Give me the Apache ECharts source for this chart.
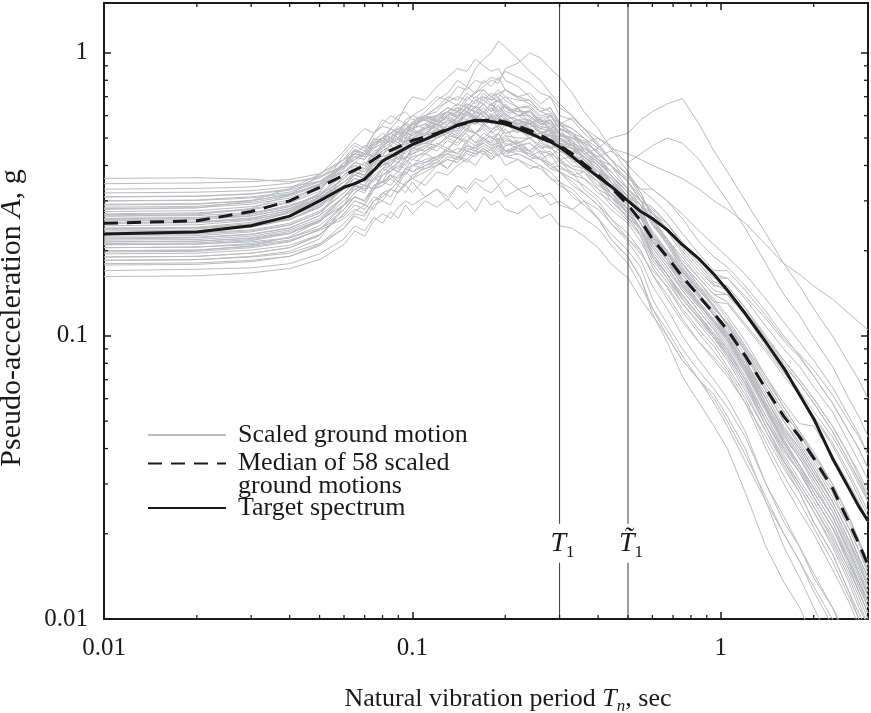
<!DOCTYPE html>
<html><head><meta charset="utf-8">
<script src="https://cdn.jsdelivr.net/npm/echarts@6/dist/echarts.min.js"></script>
<style>html,body{margin:0;padding:0;background:#fff}#c{width:871px;height:713px}</style>
</head><body><div id="c"></div>
<script>
// ---------- DATA ----------
const periods = [0.01,0.02,0.03,0.04,0.05, 0.06,0.065,0.07,0.075,0.08, 0.085,0.09,0.095,0.1,0.11, 0.12,0.13,0.14,0.15,0.16, 0.17,0.18,0.19,0.2,0.22, 0.24,0.26,0.28,0.3,0.33, 0.36,0.4,0.44,0.5,0.55, 0.6,0.67,0.75,0.85,0.95, 1.05,1.2,1.4,1.6,1.8, 2.0,2.3,2.6,2.8,3.0];
const medianSpectrum = [0.250,0.255,0.275,0.300,0.335, 0.370,0.385,0.400,0.420,0.440, 0.452,0.465,0.478,0.490,0.505, 0.520,0.538,0.555,0.565,0.575, 0.577,0.578,0.576,0.570,0.550, 0.532,0.512,0.490,0.470,0.440, 0.405,0.370,0.335,0.290,0.255, 0.220,0.190,0.162,0.138,0.120, 0.105,0.085,0.065,0.052,0.044, 0.037,0.029,0.022,0.0185,0.0155];
const targetSpectrum = [0.229,0.233,0.245,0.265,0.300, 0.335,0.345,0.358,0.385,0.415, 0.430,0.445,0.460,0.475,0.495, 0.515,0.535,0.555,0.568,0.578, 0.575,0.572,0.566,0.560,0.540, 0.520,0.500,0.485,0.465,0.430, 0.398,0.365,0.338,0.300,0.275, 0.260,0.237,0.210,0.187,0.165, 0.145,0.120,0.095,0.077,0.062, 0.051,0.037,0.029,0.025,0.0222];
// 58 scaled ground-motion spectra, in milli-g
const groundMotionsMilliG = [
[360,362,358,350,362, 400,455,440,500,480, 540,520,570,545,600, 580,620,590,650,610, 660,620,690,640,600, 630,570,600,540,520, 480,450,400,360,330, 330,300,270,235,210, 190,165,135,112,95, 82,66,52,45,38],
[170,172,174,180,195, 220,245,235,262,250, 275,260,290,270,300, 285,305,280,300,275, 310,290,300,280,270, 290,260,270,245,240, 225,205,180,160,135, 118,100,82,70,58, 48,36,26,20,16, 13,10,7.5,6,5],
[232,234,242,258,290, 330,380,365,420,450, 470,500,480,530,510, 580,555,620,600,650, 610,660,620,590,640, 560,590,520,540,470, 430,380,360,300,270, 215,185,150,130,110, 96,76,57,44,37, 31,24,18,15,12.5],
[200,201,208,224,255, 290,340,325,360,350, 395,380,420,400,440, 420,460,440,480,450, 490,470,500,450,470, 430,450,400,420,370, 380,330,310,260,240, 195,165,140,118,100, 86,68,50,40,33, 27,21,16,13.5,11],
[280,283,300,332,372, 420,455,440,490,520, 500,540,560,530,600, 640,700,680,760,720, 800,760,820,740,700, 720,660,700,600,580, 520,470,420,370,310, 270,235,195,165,145, 140,118,92,75,62, 52,41,32,27,23],
[260,262,270,290,312, 360,390,380,430,460, 500,480,540,560,620, 680,720,800,760,880, 950,1000,1100,1050,950, 860,800,720,660,600, 540,470,420,350,300, 250,210,170,140,118, 100,78,58,45,37, 30,23,17,14,11.5],
[185,186,190,196,212, 240,265,255,290,300, 290,325,340,320,360, 400,430,420,470,460, 500,480,520,560,520, 580,540,600,560,590, 540,500,470,400,360, 330,300,260,215,190, 175,150,122,100,85, 72,58,46,40,34],
[210,211,215,222,240, 265,290,280,310,300, 330,320,345,360,340, 380,370,400,420,400, 440,420,450,430,470, 450,480,460,500,470, 440,460,500,520,580, 620,660,690,560,450, 380,300,230,180,150, 125,100,80,70,60],
[300,302,310,322,350, 395,440,430,470,500, 480,530,510,560,580, 550,600,570,620,590, 620,580,600,560,580, 540,500,520,480,430, 400,360,310,280,240, 200,170,145,122,105, 90,70,52,40,33, 27,21,16,13.5,11.5],
[240,242,252,272,305, 350,370,360,410,400, 440,420,470,460,490, 540,500,560,530,590, 560,600,550,580,540, 560,520,540,480,470, 430,400,350,310,290, 250,220,190,160,140, 140,118,96,78,68, 58,46,36,31,26],
[190,191,196,205,228, 270,300,290,330,340, 370,350,390,380,400, 420,390,430,410,440, 450,420,440,400,420, 390,400,360,340,320, 290,260,220,190,160, 125,100,82,70,62, 52,40,26,18,14, 11,8,6,5,4],
[275,277,286,302,335, 390,420,450,430,480, 510,490,540,560,540, 600,640,620,660,640, 700,660,680,620,640, 590,560,580,520,480, 420,380,340,290,250, 210,180,152,130,112, 98,78,56,42,35, 29,23,17.5,14.5,12],
[220,222,228,240,266, 310,340,330,360,390, 380,410,430,420,450, 470,450,500,480,520, 500,530,490,540,480, 500,460,470,420,430, 400,380,330,300,265, 225,200,170,145,128, 110,90,68,54,45, 38,30,23,19,15.5],
[310,312,318,330,362, 420,470,450,520,560, 600,580,650,700,680, 760,820,880,860,950, 900,860,880,800,760, 700,640,620,560,520, 470,410,370,310,270, 230,195,165,138,118, 100,80,60,47,39, 32,25,19,16,13],
[250,252,260,278,310, 340,360,350,390,400, 410,440,420,460,450, 480,460,500,490,520, 490,510,480,500,470, 480,450,440,420,390, 380,340,320,280,250, 220,195,165,140,124, 112,92,72,58,49, 48,38,30,26,22],
[205,206,212,222,245, 290,320,340,330,380, 400,440,420,470,520, 500,560,590,560,620, 600,640,610,650,600, 620,560,580,540,520, 480,420,400,330,300, 285,250,210,180,155, 150,126,100,82,70, 60,48,38,32,27],
[265,268,282,315,370, 450,500,540,520,580, 560,600,620,580,600, 570,590,540,560,520, 540,500,520,480,460, 450,420,400,380,340, 320,290,260,220,200, 165,135,112,95,82, 72,58,44,34,28, 22,17,12.5,10,8.5],
[230,231,237,250,276, 320,350,340,380,400, 410,440,420,460,480, 470,510,500,540,520, 560,530,560,520,540, 500,520,460,470,410, 420,360,340,280,260, 215,195,160,140,118, 104,82,62,48,40, 33,26,20,16.5,14],
[320,322,326,336,352, 380,400,390,430,450, 470,440,490,500,530, 560,600,640,620,680, 700,680,720,740,700, 680,620,640,560,540, 500,440,400,350,300, 250,215,180,150,132, 115,92,70,56,46, 38,30,23,18.5,15.5],
[180,181,185,191,208, 240,270,265,300,320, 310,340,320,350,310, 330,300,340,320,350, 330,320,340,310,330, 310,320,290,300,280, 300,280,250,220,195, 170,150,125,105,92, 78,62,46,36,30, 25,19,14.5,12,10],
[255,257,265,282,315, 360,400,390,440,430, 480,500,470,520,540, 560,530,600,580,620, 600,640,590,610,560, 580,520,530,470,460, 400,370,320,270,240, 190,165,135,116,100, 86,68,48,36,29, 24,18,13.5,11,9.5],
[215,216,222,234,256, 290,310,300,330,350, 340,370,380,360,400, 410,390,430,420,450, 440,460,430,470,480, 450,490,460,480,440, 460,430,450,410,440, 470,500,480,420,350, 300,240,180,140,118, 98,78,60,52,44],
[290,292,300,316,345, 400,450,430,480,500, 520,500,560,540,600, 620,680,650,720,690, 740,700,720,680,640, 650,600,610,540,520, 450,400,350,300,270, 215,185,150,128,112, 98,78,56,42,35, 29,23,17.5,14.5,12],
[200,201,207,216,238, 280,310,300,340,350, 370,350,390,380,410, 430,460,440,490,470, 500,480,520,470,490, 450,420,440,390,380, 330,300,260,230,200, 165,140,115,95,84, 74,58,40,30,24, 20,15,11.5,9.5,8],
[245,247,256,274,305, 350,380,370,420,440, 470,450,500,480,520, 560,540,590,620,580, 620,580,600,560,580, 560,520,540,490,470, 450,410,370,320,290, 245,215,180,155,132, 130,108,88,72,62, 52,42,33,28,24],
[195,196,201,209,228, 270,300,290,330,340, 360,340,380,400,390, 410,440,430,460,450, 470,450,480,440,460, 440,470,430,460,420, 430,390,360,310,290, 270,250,215,185,165, 160,138,115,96,84, 72,58,46,40,34],
[270,272,281,298,330, 400,430,420,470,490, 500,530,510,560,580, 600,640,620,700,660, 720,680,700,640,620, 620,580,560,520,480, 420,370,320,280,240, 190,160,135,115,98, 86,68,48,36,29, 24,18.5,14,11.5,9.5],
[225,226,233,246,272, 340,370,360,400,420, 440,420,460,470,490, 510,540,520,570,560, 600,560,590,550,560, 540,500,520,460,450, 430,390,340,300,265, 225,195,165,138,120, 102,82,60,47,40, 33,26,20,16.5,14],
[330,332,336,346,366, 400,420,440,430,470, 500,480,520,540,510, 560,520,580,550,600, 560,590,560,580,540, 550,500,510,470,460, 420,380,350,300,270, 235,200,168,145,126, 110,88,66,52,43, 36,28,21,17.5,15],
[210,211,217,230,256, 310,340,360,350,390, 420,410,450,480,500, 540,580,560,620,640, 600,640,620,660,600, 620,580,540,560,500, 490,440,400,350,310, 270,240,200,170,150, 150,125,98,80,68, 58,46,36,31,27],
[162,163,167,173,186, 210,235,225,255,270, 260,285,300,290,310, 330,310,340,330,360, 350,370,340,360,330, 340,310,320,290,280, 260,240,210,180,150, 125,105,85,70,60, 50,38,27,20,16, 12.5,9.5,7,6,5],
[260,261,269,286,318, 370,410,400,440,470, 490,470,520,510,550, 590,620,640,620,680, 660,700,670,700,640, 640,590,600,540,510, 470,420,370,320,280, 225,190,155,130,112, 96,76,56,43,35, 28,22,16.5,13.5,11.5],
[240,241,249,264,292, 330,360,350,390,420, 440,470,460,500,540, 580,620,600,680,720, 760,800,780,880,920, 1000,960,880,820,720, 620,540,460,380,320, 260,215,175,142,118, 98,76,55,42,34, 27,21,15.5,12.5,10.5],
[235,236,243,257,284, 330,360,350,380,410, 400,430,420,450,470, 450,490,470,510,480, 520,500,490,510,470, 480,440,450,410,390, 360,330,290,255,225, 185,160,130,110,95, 82,64,46,35,28, 22,17,12.5,10.5,9],
[285,287,296,312,340, 400,440,430,480,490, 520,500,540,560,580, 560,610,590,640,620, 660,620,650,610,630, 600,560,570,520,500, 460,430,380,330,300, 255,220,180,155,135, 118,96,72,56,46, 39,30,23,19,16],
[218,219,225,237,260, 310,345,330,370,390, 400,390,430,440,460, 500,530,510,560,570, 550,580,540,570,530, 530,490,500,450,440, 410,370,340,290,260, 220,185,158,132,114, 98,78,60,46,38, 32,25,19,16,13.5],
[205,206,210,218,236, 260,280,270,300,310, 330,350,340,370,390, 400,420,410,440,430, 460,440,470,490,480, 500,520,490,510,500, 480,500,460,440,420, 400,380,360,330,300, 280,250,210,180,165, 150,135,120,112,105],
[250,251,258,272,300, 350,380,370,410,430, 440,470,460,480,510, 540,520,570,560,600, 580,610,570,590,550, 540,500,510,450,430, 390,350,310,270,240, 195,165,140,118,102, 90,72,52,40,33, 27,21,16,13,11],
[300,301,307,318,342, 380,410,440,430,470, 490,520,500,540,560, 540,580,560,610,590, 620,590,610,580,560, 560,520,510,480,440, 400,360,320,270,235, 195,165,135,115,100, 88,70,50,38,31, 26,20,15,12.5,10.5],
[190,191,196,205,226, 280,310,300,340,350, 370,360,390,400,420, 430,450,440,470,460, 480,460,490,450,460, 430,420,390,380,350, 320,290,250,215,185, 150,125,100,82,70, 60,46,30,22,18, 14,11,8,6.5,5.5],
[268,270,279,295,324, 410,440,430,480,500, 520,540,520,570,600, 640,670,700,680,730, 740,700,740,700,680, 680,620,640,570,540, 500,440,400,350,300, 250,210,175,148,128, 108,88,64,50,41, 34,26,20,16.5,14],
[228,229,235,247,272, 320,350,340,380,400, 420,410,450,470,480, 520,540,530,580,560, 600,560,590,560,570, 560,540,530,520,480, 460,420,380,330,300, 280,250,210,180,160, 160,135,108,90,78, 66,54,42,36,31],
[215,216,221,231,252, 310,330,320,360,370, 380,400,390,420,410, 420,440,420,450,440, 450,430,460,430,420, 400,390,360,350,310, 290,260,220,190,160, 120,95,72,58,48, 40,28,18,13.5,11, 8.5,6.5,5,4.2,3.5],
[310,311,317,327,352, 400,440,430,480,500, 540,520,580,600,640, 700,680,760,740,800, 780,820,800,860,820, 780,720,700,640,600, 540,480,420,370,320, 260,220,180,150,128, 110,88,64,50,41, 34,26,20,16.5,14],
[240,241,247,259,286, 340,370,360,400,420, 430,450,440,470,480, 500,520,500,540,520, 560,540,550,520,530, 510,520,480,500,460, 450,410,380,330,300, 275,240,205,175,152, 145,122,98,82,70, 60,48,38,33,28],
[265,266,273,287,314, 380,410,400,450,460, 480,500,480,520,540, 560,590,570,620,600, 640,600,630,600,580, 580,550,540,500,470, 420,370,330,290,250, 205,175,145,122,106, 92,74,54,41,34, 28,22,16,13,11],
[198,199,205,215,238, 290,320,340,330,370, 390,410,400,440,470, 500,520,560,540,590, 570,600,560,590,550, 560,520,530,480,460, 430,390,350,300,270, 230,200,172,146,126, 110,90,68,54,45, 37,29,22,18.5,15.5],
[282,284,292,307,335, 390,430,420,460,480, 490,520,500,540,560, 600,620,660,640,700, 680,720,700,740,690, 660,620,600,560,520, 470,420,380,330,290, 225,190,160,136,118, 102,82,60,46,38, 32,25,19,15.5,13],
[232,234,248,275,320, 440,480,460,520,550, 540,580,560,600,580, 560,540,500,520,480, 500,470,480,450,440, 420,400,380,350,330, 300,260,230,200,175, 135,110,90,75,65, 56,44,30,23,18, 14.5,11,8.5,7,6],
[252,253,261,277,306, 360,390,380,420,440, 460,450,490,500,520, 550,570,560,600,590, 620,590,610,580,600, 570,540,550,500,480, 450,410,370,320,290, 255,220,185,160,140, 132,110,90,74,64, 54,44,35,30,26],
[178,179,183,191,210, 250,275,290,280,320, 330,320,350,360,380, 400,420,410,450,440, 460,440,470,430,440, 420,430,390,400,370, 360,320,300,260,230, 190,165,138,118,102, 88,70,50,39,33, 27,21,16,13.5,11.5],
[345,347,351,357,374, 420,440,470,460,500, 520,540,520,560,590, 600,640,620,660,640, 680,650,690,640,620, 620,570,580,520,490, 440,400,350,300,265, 210,180,152,128,112, 98,78,56,43,35, 29,23,17.5,14.5,12],
[222,223,229,241,266, 340,370,390,380,420, 430,460,450,480,500, 520,540,530,580,560, 600,570,560,580,540, 530,500,480,450,420, 380,350,310,275,240, 205,175,148,126,108, 94,75,55,42,35, 29,23,17.5,14.5,12.5],
[258,259,266,281,308, 350,380,370,410,420, 450,440,470,500,490, 530,550,540,580,570, 600,570,590,560,580, 560,580,540,560,520, 500,460,420,370,330, 305,270,230,195,170, 170,145,118,98,86, 76,62,50,44,38],
[212,213,219,230,254, 300,330,340,330,370, 390,380,410,430,440, 470,500,480,530,520, 550,520,540,510,500, 500,470,460,440,400, 390,350,320,290,250, 215,185,155,132,114, 100,80,58,45,37, 31,24,18.5,15.5,13],
[292,293,301,315,343, 410,450,440,490,500, 520,550,530,570,590, 570,620,600,640,620, 660,620,650,600,580, 560,530,510,480,440, 390,350,300,265,225, 175,148,122,102,88, 76,60,42,32,26, 21,16,12,10,8.5],
[238,239,246,259,286, 370,390,410,400,450, 470,450,500,510,540, 580,600,620,600,650, 620,660,630,650,600, 600,560,560,510,490, 440,400,360,310,280, 230,198,165,140,122, 106,85,64,50,42, 35,27,21,17.5,14.5],
[185,186,191,199,220, 290,310,300,340,350, 360,380,370,400,410, 430,440,460,450,470, 480,460,470,450,450, 440,420,410,380,360, 340,310,280,250,215, 180,155,130,112,98, 84,66,48,37,30, 25,19.5,15,12.5,10.5]
];
const markedPeriods = [0.3, 0.5];           // T1 and T~1
const markedLabels = ['T', 'T\u0303'];
const xTickValues = [0.01, 0.1, 1];
const xTickLabels = ['0.01', '0.1', '1'];
const yTickValues = [0.01, 0.1, 1];
const yTickLabels = ['0.01', '0.1', '1'];
const xMinorTicks = [0.02,0.03,0.04,0.05,0.06,0.07,0.08,0.09,0.2,0.3,0.4,0.5,0.6,0.7,0.8,0.9,2];
const yMinorTicks = [0.02,0.03,0.04,0.05,0.06,0.07,0.08,0.09,0.2,0.3,0.4,0.5,0.6,0.7,0.8,0.9];
const seriesNames = ['Scaled ground motion', 'Median of 58 scaled ground motions', 'Target spectrum'];
const legendLines = ['Scaled ground motion', 'Median of 58 scaled\nground motions', 'Target spectrum'];

// ---------- CHART ----------
const X_MIN = 0.01, X_MAX = 3, Y_MIN = 0.01, Y_MAX = 1.5;
const FONT = 'Liberation Serif, Times New Roman, serif';
const INK = '#1a1a1a';
const GRAY = '#b9bbbe';

function tickFmt(vals, labels) {
  return function (v) {
    for (let i = 0; i < vals.length; i++) if (Math.abs(v - vals[i]) / vals[i] < 1e-6) return labels[i];
    return '';
  };
}

const chart = echarts.init(document.getElementById('c'), null, { renderer: 'canvas' });

const series = [];
groundMotionsMilliG.forEach(function (row) {
  series.push({
    type: 'line', name: seriesNames[0], symbol: 'none', silent: true, z: 2,
    lineStyle: { color: GRAY, width: 1 },
    itemStyle: { color: GRAY },
    data: periods.map(function (p, i) { return [p, row[i] / 1000]; })
  });
});

// vertical period markers (split around their labels)
const gapLow = 0.0158, gapHigh = 0.0217;
markedPeriods.forEach(function (t) {
  [[Y_MIN, gapLow], [gapHigh, Y_MAX]].forEach(function (seg) {
    series.push({
      type: 'line', symbol: 'none', silent: true, z: 3,
      lineStyle: { color: '#3a3a3a', width: 1 },
      data: [[t, seg[0]], [t, seg[1]]]
    });
  });
});
series.push({
  type: 'scatter', symbolSize: 0, silent: true, z: 6,
  itemStyle: { opacity: 1, color: INK },
  data: markedPeriods.map(function (t) { return [t, 0.0185]; }),
  label: {
    show: true, position: 'inside', offset: [3, 0], color: INK, opacity: 1,
    formatter: function (p) { return '{i|' + markedLabels[p.dataIndex] + '}{s|1}'; },
    rich: {
      i: { fontFamily: FONT, fontStyle: 'italic', fontSize: 28, color: INK, lineHeight: 36 },
      s: { fontFamily: FONT, fontSize: 17, color: INK, lineHeight: 17, verticalAlign: 'bottom' }
    }
  }
});

series.push({
  type: 'line', name: seriesNames[1], symbol: 'none', silent: true, z: 4,
  lineStyle: { color: INK, width: 3, type: [14, 9] },
  itemStyle: { color: INK },
  data: periods.map(function (p, i) { return [p, medianSpectrum[i]]; })
});
series.push({
  type: 'line', name: seriesNames[2], symbol: 'none', silent: true, z: 5,
  lineStyle: { color: INK, width: 3 },
  itemStyle: { color: INK },
  data: periods.map(function (p, i) { return [p, targetSpectrum[i]]; })
});

// minor ticks on all four sides
series.push({
  type: 'custom', silent: true, clip: false, z: 10,
  data: xMinorTicks.map(function (v) { return [v, Y_MIN, 0]; })
    .concat(yMinorTicks.map(function (v) { return [X_MIN, v, 1]; })),
  renderItem: function (params, api) {
    const L = 4, st = { stroke: INK, lineWidth: 1.3 };
    if (api.value(2) === 0) {
      const b = api.coord([api.value(0), Y_MIN]);
      const t = api.coord([api.value(0), Y_MAX]);
      return { type: 'group', children: [
        { type: 'line', shape: { x1: b[0], y1: b[1], x2: b[0], y2: b[1] - L }, style: st },
        { type: 'line', shape: { x1: t[0], y1: t[1], x2: t[0], y2: t[1] + L }, style: st }
      ] };
    } else {
      const l = api.coord([X_MIN, api.value(1)]);
      const r = api.coord([X_MAX, api.value(1)]);
      return { type: 'group', children: [
        { type: 'line', shape: { x1: l[0], y1: l[1], x2: l[0] + L, y2: l[1] }, style: st },
        { type: 'line', shape: { x1: r[0], y1: r[1], x2: r[0] - L, y2: r[1] }, style: st }
      ] };
    }
  }
});

const axisCommon = {
  type: 'log', logBase: 10,
  axisLine: { show: true, onZero: false, lineStyle: { color: INK, width: 2 } },
  axisTick: { show: true, inside: true, length: 7, lineStyle: { color: INK, width: 1.5 } },
  splitLine: { show: false },
  minorTick: { show: false },
  minorSplitLine: { show: false }
};
const labelStyle = { fontFamily: FONT, fontSize: 25, color: INK };
const legendText = { fontFamily: FONT, fontSize: 26, color: INK, lineHeight: 26, padding: [0, 0, 0, 7] };
const legendCommon = {
  left: 147, orient: 'vertical', padding: 0, itemWidth: 78, itemHeight: 14, selectedMode: false,
  itemStyle: { color: 'rgba(0,0,0,0)', borderColor: 'rgba(0,0,0,0)', borderWidth: 0 }
};

chart.setOption({
  animation: false,
  backgroundColor: '#fff',
  grid: { left: 104, right: 3, top: 3, bottom: 94, containLabel: false, outerBoundsMode: 'none' },
  xAxis: [
    Object.assign({}, axisCommon, {
      min: X_MIN, max: X_MAX, position: 'bottom',
      axisLabel: Object.assign({ margin: 17, formatter: tickFmt(xTickValues, xTickLabels) }, labelStyle),
      name: '{a|Natural vibration period }{i|T}{s|n}{a|, sec}',
      nameLocation: 'middle', nameGap: 64,
      nameTextStyle: { padding: [0, 0, 0, 44], rich: {
        a: { fontFamily: FONT, fontSize: 26, color: INK, lineHeight: 32 },
        i: { fontFamily: FONT, fontSize: 26, fontStyle: 'italic', color: INK, lineHeight: 32 },
        s: { fontFamily: FONT, fontSize: 17, fontStyle: 'italic', color: INK, lineHeight: 17, verticalAlign: 'bottom' }
      } }
    }),
    Object.assign({}, axisCommon, {
      min: X_MIN, max: X_MAX, position: 'top', axisLabel: { show: false }
    })
  ],
  yAxis: [
    Object.assign({}, axisCommon, {
      min: Y_MIN, max: Y_MAX, position: 'left',
      axisLabel: Object.assign({ margin: 16, formatter: tickFmt(yTickValues, yTickLabels) }, labelStyle),
      name: '{a|Pseudo-acceleration }{i|A}{a|, g}',
      nameLocation: 'middle', nameRotate: 90, nameGap: 77,
      nameTextStyle: { padding: [0, 14, 0, 0], rich: {
        a: { fontFamily: FONT, fontSize: 30, color: INK },
        i: { fontFamily: FONT, fontSize: 30, fontStyle: 'italic', color: INK }
      } }
    }),
    Object.assign({}, axisCommon, {
      min: Y_MIN, max: Y_MAX, position: 'right', axisLabel: { show: false }
    })
  ],
  legend: [
    Object.assign({}, legendCommon, { top: 422, data: [{ name: seriesNames[0] }], textStyle: legendText,
      formatter: function () { return legendLines[0]; } }),
    Object.assign({}, legendCommon, { top: 427.5, data: [{ name: seriesNames[1] }],
      formatter: function () { return ' \n' + legendLines[1]; },
      textStyle: Object.assign({}, legendText, { lineHeight: 23 }) }),
    Object.assign({}, legendCommon, { top: 495, data: [{ name: seriesNames[2] }], textStyle: legendText,
      formatter: function () { return legendLines[2]; } })
  ],
  series: series
});
</script>
</body></html>
